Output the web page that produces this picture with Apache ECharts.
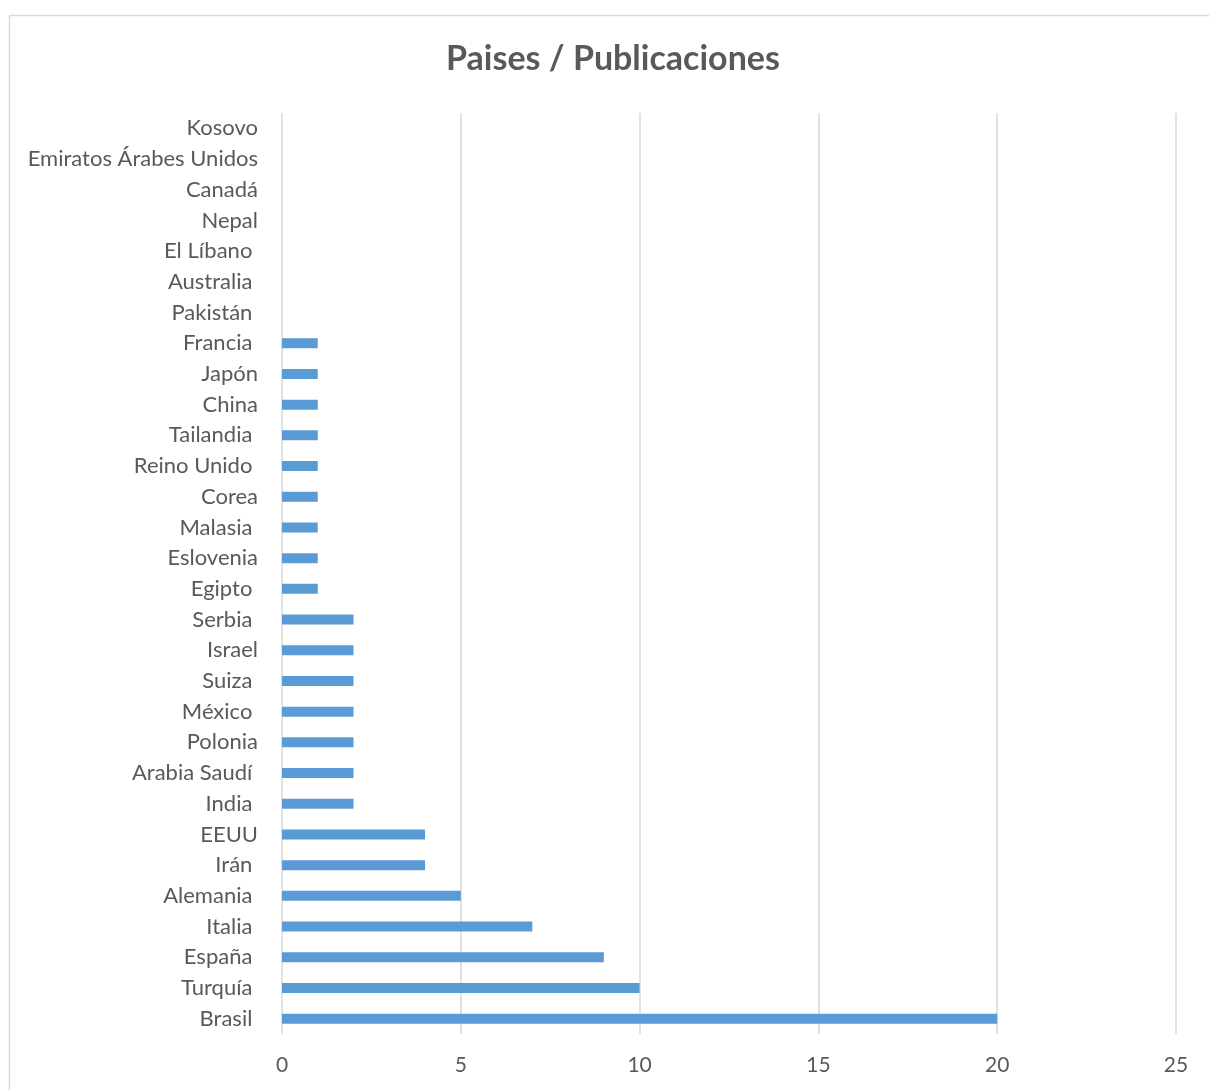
<!DOCTYPE html>
<html>
<head>
<meta charset="utf-8">
<title>Paises / Publicaciones</title>
<script src="https://cdn.jsdelivr.net/npm/echarts@6/dist/echarts.min.js"></script>
<style>
  html, body { margin: 0; padding: 0; background: #fff; }
  #chart { width: 1209px; height: 1090px; }
</style>
</head>
<body>
<div id="chart"></div>
<script>
  // categorias de abajo hacia arriba (los espacios finales vienen de la hoja original)
  var paises = ['Brasil ', 'Turquía ', 'España ', 'Italia ', 'Alemania ', 'Irán ', 'EEUU', 'India ',
    'Arabia Saudí ', 'Polonia', 'México ', 'Suiza ', 'Israel', 'Serbia ', 'Egipto ', 'Eslovenia',
    'Malasia ', 'Corea', 'Reino Unido ', 'Tailandia ', 'China', 'Japón', 'Francia ', 'Pakistán ',
    'Australia ', 'El Líbano ', 'Nepal', 'Canadá', 'Emiratos Árabes Unidos', 'Kosovo'];
  var publicaciones = [20, 10, 9, 7, 5, 4, 4, 2, 2, 2, 2, 2, 2, 2, 1, 1, 1, 1, 1, 1, 1, 1, 1, 0, 0, 0, 0, 0, 0, 0];
  var ejeX = { min: 0, max: 25, interval: 5 };

  var font = 'Lato, "Open Sans", sans-serif';
  var chart = echarts.init(document.getElementById('chart'), null, { renderer: 'canvas' });
  chart.setOption({
    animation: false,
    backgroundColor: '#fff',
    title: {
      text: 'Paises / Publicaciones',
      left: 608,
      top: 37,
      textAlign: 'center',
      textStyle: { fontFamily: font, fontSize: 34, fontWeight: 'bold', color: '#595959' }
    },
    graphic: [{
      type: 'rect',
      silent: true,
      shape: { x: 9.5, y: 15.5, width: 1300, height: 1200 },
      style: { fill: 'none', stroke: '#d9d9d9', lineWidth: 1.5 }
    }],
    grid: { left: 282, right: 33, top: 113, bottom: 56, containLabel: false },
    xAxis: {
      type: 'value',
      min: ejeX.min,
      max: ejeX.max,
      interval: ejeX.interval,
      axisLine: { show: false },
      axisTick: { show: false },
      axisLabel: { margin: 21, fontFamily: font, fontSize: 21, color: '#595959' },
      splitLine: { show: true, lineStyle: { color: '#d9d9d9', width: 1.5 } }
    },
    yAxis: {
      type: 'category',
      data: paises,
      axisLine: { show: false },
      axisTick: { show: false },
      axisLabel: { margin: 24, fontFamily: font, fontSize: 22, color: '#595959', interval: 0 }
    },
    series: [{
      type: 'bar',
      data: publicaciones,
      barWidth: 10,
      itemStyle: { color: '#5b9bd5' }
    }]
  });
</script>
</body>
</html>
